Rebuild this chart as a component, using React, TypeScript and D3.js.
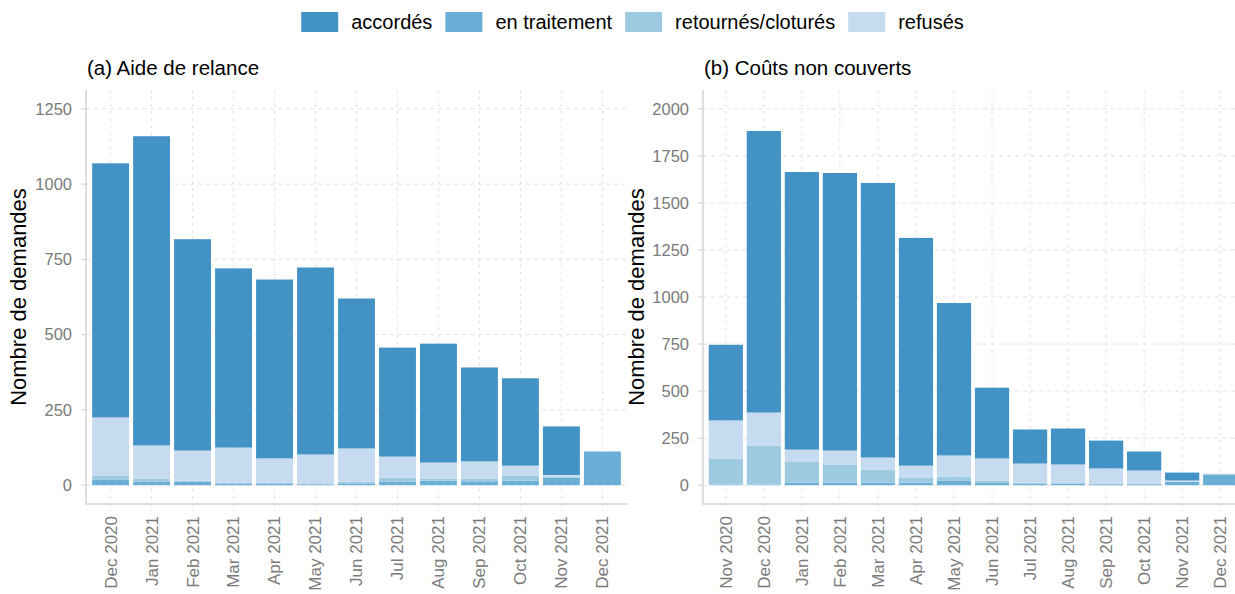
import { useEffect, useRef } from 'react'
import * as d3 from 'd3'

// (a) Aide de relance
const moisA = ['Dec 2020', 'Jan 2021', 'Feb 2021', 'Mar 2021', 'Apr 2021', 'May 2021', 'Jun 2021', 'Jul 2021', 'Aug 2021', 'Sep 2021', 'Oct 2021', 'Nov 2021', 'Dec 2021']
const enTraitementA = [19, 12, 12, 6, 6, 3, 6, 12, 15, 13, 15, 25, 112]
const retournesA = [13, 10, 3, 3, 3, 3, 6, 13, 7, 9, 17, 3, 0]
const refusesA = [193, 110, 100, 116, 80, 96, 110, 70, 53, 57, 33, 6, 0]
const accordesA = [844, 1027, 702, 595, 594, 621, 498, 362, 395, 312, 290, 161, 0]

// (b) Coûts non couverts
const moisB = ['Nov 2020', 'Dec 2020', 'Jan 2021', 'Feb 2021', 'Mar 2021', 'Apr 2021', 'May 2021', 'Jun 2021', 'Jul 2021', 'Aug 2021', 'Sep 2021', 'Oct 2021', 'Nov 2021', 'Dec 2021']
const enTraitementB = [3, 3, 14, 14, 14, 14, 25, 14, 8, 8, 5, 5, 17, 57]
const retournesB = [139, 208, 112, 96, 69, 27, 21, 11, 6, 4, 3, 3, 2, 0]
const refusesB = [202, 175, 63, 74, 64, 63, 112, 117, 101, 98, 81, 70, 6, 5]
const accordesB = [402, 1496, 1475, 1475, 1459, 1210, 810, 376, 181, 191, 148, 101, 42, 0]

const ticksA = [0, 250, 500, 750, 1000, 1250]
const ticksB = [0, 250, 500, 750, 1000, 1250, 1500, 1750, 2000]

const statuts = ['accordés', 'en traitement', 'retournés/cloturés', 'refusés']
const couleurs = ['#4292c6', '#6baed6', '#9ecae1', '#c6dbef']

const W = 1235
const H = 594
const FONT = '"Liberation Sans", Arial, Helvetica, sans-serif'

const App = () => {
    const ref = useRef<SVGSVGElement | null>(null)

    useEffect(() => {
        if (!ref.current) return
        const svg = d3.select(ref.current)
        svg.selectAll('*').remove()

        const color = d3.scaleOrdinal<string, string>().domain(statuts).range(couleurs)
        // stacking order bottom -> top
        const stackKeys = ['en traitement', 'retournés/cloturés', 'refusés', 'accordés']

        const panels = [
            {
                title: '(a) Aide de relance', mois: moisA, ticks: ticksA, max: 1250,
                series: { 'accordés': accordesA, 'en traitement': enTraitementA, 'retournés/cloturés': retournesA, 'refusés': refusesA } as Record<string, number[]>,
                x0: 86, x1: 627, ylab: 72, ytitle: 18,
            },
            {
                title: '(b) Coûts non couverts', mois: moisB, ticks: ticksB, max: 2000,
                series: { 'accordés': accordesB, 'en traitement': enTraitementB, 'retournés/cloturés': retournesB, 'refusés': refusesB } as Record<string, number[]>,
                x0: 703, x1: 1243, ylab: 689, ytitle: 636,
            },
        ]

        const top = 90
        const bottom = 504

        panels.forEach(p => {
            const g = svg.append('g')
            const x = d3.scaleBand().domain(p.mois).range([p.x0, p.x1]).paddingInner(0.1).paddingOuter(0.15)
            const pad = p.max * 0.05
            const y = d3.scaleLinear().domain([-pad, p.max + pad]).range([bottom, top])

            // grid
            g.append('g')
                .selectAll('line')
                .data(p.ticks)
                .join('line')
                .attr('x1', p.x0).attr('x2', p.x1)
                .attr('y1', d => y(d)).attr('y2', d => y(d))
                .attr('stroke', '#e2e2e2').attr('stroke-width', 1)
                .attr('stroke-dasharray', '4,4')
            g.append('g')
                .selectAll('line')
                .data(p.mois)
                .join('line')
                .attr('x1', d => x(d)! + x.bandwidth() / 2).attr('x2', d => x(d)! + x.bandwidth() / 2)
                .attr('y1', top).attr('y2', bottom + 7)
                .attr('stroke', '#e2e2e2').attr('stroke-width', 1)
                .attr('stroke-dasharray', '3,4')

            // bars
            const rows = p.mois.map((m, i) => {
                const r: Record<string, number | string> = { mois: m }
                stackKeys.forEach(k => { r[k] = p.series[k][i] })
                return r
            })
            const stacked = d3.stack<Record<string, number | string>>().keys(stackKeys)(rows)
            g.append('g')
                .selectAll('g')
                .data(stacked)
                .join('g')
                .attr('fill', d => color(d.key))
                .selectAll('rect')
                .data(d => d)
                .join('rect')
                .attr('x', d => x(d.data.mois as string)!)
                .attr('width', x.bandwidth())
                .attr('y', d => y(d[1]))
                .attr('height', d => Math.max(0, y(d[0]) - y(d[1])))

            // axes lines
            g.append('path')
                .attr('d', `M${p.x0},${top}V${bottom}H${p.x1}`)
                .attr('fill', 'none').attr('stroke', '#d4d4d4').attr('stroke-width', 1.5)

            // y ticks
            const yt = g.append('g')
            yt.selectAll('line')
                .data(p.ticks)
                .join('line')
                .attr('x1', p.x0 - 5).attr('x2', p.x0)
                .attr('y1', d => y(d)).attr('y2', d => y(d))
                .attr('stroke', '#cfcfcf')
            yt.selectAll('text')
                .data(p.ticks)
                .join('text')
                .attr('x', p.ylab).attr('y', d => y(d))
                .attr('dy', '0.35em')
                .attr('text-anchor', 'end')
                .attr('fill', '#7a7a7a')
                .style('font-size', '16.5px')
                .text(d => String(d))

            // x tick labels
            g.append('g')
                .selectAll('text')
                .data(p.mois)
                .join('text')
                .attr('transform', d => `translate(${x(d)! + x.bandwidth() / 2},${bottom + 12}) rotate(-90)`)
                .attr('dy', '0.35em')
                .attr('text-anchor', 'end')
                .attr('fill', '#7a7a7a')
                .style('font-size', '17px')
                .text(d => d)

            // titles
            g.append('text')
                .attr('x', p.x0 + 1).attr('y', 75)
                .attr('fill', '#000')
                .style('font-size', '20.5px')
                .text(p.title)
            g.append('text')
                .attr('transform', `translate(${p.ytitle},${(top + bottom) / 2}) rotate(-90)`)
                .attr('dy', '0.35em')
                .attr('text-anchor', 'middle')
                .attr('fill', '#000')
                .style('font-size', '22px')
                .text('Nombre de demandes')
        })

        // legend
        const leg = svg.append('g')
        const items = leg.selectAll('g')
            .data(statuts)
            .join('g')
        items.append('rect')
            .attr('width', 37).attr('height', 20)
            .attr('y', 12)
            .attr('fill', d => color(d))
        const labels = items.append('text')
            .attr('x', 50).attr('y', 22)
            .attr('dy', '0.35em')
            .attr('fill', '#000')
            .style('font-size', '20px')
            .text(d => d)
        const widths: number[] = []
        labels.each(function () { widths.push((this as SVGTextElement).getComputedTextLength()) })
        const total = d3.sum(widths, w => 50 + w) + 13 * (statuts.length - 1)
        let cx = 632.5 - total / 2
        items.attr('transform', (_, i) => {
            const t = `translate(${cx},0)`
            cx += 50 + widths[i] + 13
            return t
        })
    }, [])

    return (
        <svg
            ref={ref}
            width={W}
            height={H}
            style={{ position: 'absolute', left: 0, top: 0, background: '#fff', fontFamily: FONT, overflow: 'hidden' }}
        />
    )
}

export default App
